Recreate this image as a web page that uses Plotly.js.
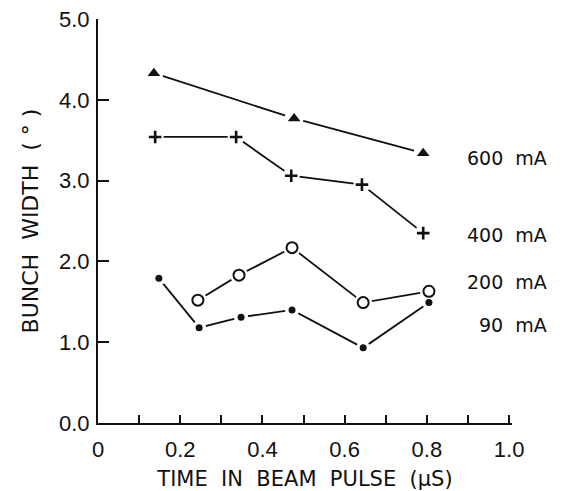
<!DOCTYPE html>
<html>
<head>
<meta charset="utf-8">
<script src="https://cdn.plot.ly/plotly-3.0.1.min.js"></script>
<style>html,body{margin:0;padding:0;background:#fff;}#chart{width:569px;height:491px;}</style>
</head>
<body>
<div id="chart"></div>
<script>
// Data
const t600 = [0.136, 0.477, 0.791];
const w600 = [4.33, 3.77, 3.34];
const t400 = [0.139, 0.336, 0.470, 0.642, 0.791];
const w400 = [3.54, 3.54, 3.06, 2.95, 2.35];
const t200 = [0.243, 0.343, 0.472, 0.645, 0.805];
const w200 = [1.52, 1.83, 2.17, 1.49, 1.63];
const t90 = [0.148, 0.246, 0.348, 0.472, 0.645, 0.805];
const w90 = [1.79, 1.18, 1.31, 1.40, 0.93, 1.49];

const seriesNames = ['600\u00a0\u00a0mA', '400\u00a0\u00a0mA', '200\u00a0\u00a0mA', '90\u00a0\u00a0mA'];
const labelX = [0.893, 0.893, 0.893, 0.921];
const labelY = [3.28, 2.33, 1.745, 1.21];

const xTickVals = [0, 0.1, 0.2, 0.3, 0.4, 0.5, 0.6, 0.7, 0.8, 0.9, 1.0];
const xTickText = ['0', '', '0.2', '', '0.4', '', '0.6', '', '0.8', '', '1.0'];
const yTickVals = [0, 1, 2, 3, 4, 5];
const yTickText = ['0.0', '1.0', '2.0', '3.0', '4.0', '5.0'];

const series = [
  {x: t600, y: w600, sym: 'triangle-up', size: 11, lw: 0, col: '#111', halo: 19},
  {x: t400, y: w400, sym: 'cross-thin-open', size: 9, lw: 2.6, col: '#111', halo: 17},
  {x: t200, y: w200, sym: 'circle-open', size: 11, lw: 2, col: '#111', halo: 18},
  {x: t90, y: w90, sym: 'circle', size: 7, lw: 0, col: '#111', halo: 14}
];

const traces = [];
series.forEach(s => traces.push({x: s.x, y: s.y, mode: 'lines', line: {color: '#111', width: 1.8}, hoverinfo: 'skip', showlegend: false}));
series.forEach(s => traces.push({x: s.x, y: s.y, mode: 'markers', marker: {symbol: 'circle', size: s.halo, color: '#fff', opacity: 1, line: {width: 0}}, hoverinfo: 'skip', showlegend: false}));
series.forEach(s => traces.push({x: s.x, y: s.y, mode: 'markers', marker: {symbol: s.sym, size: s.size, color: s.col, line: {color: '#111', width: s.lw}}, showlegend: false}));

const annotations = seriesNames.map((n, i) => ({
  x: labelX[i], y: labelY[i], xref: 'x', yref: 'y', text: n, showarrow: false,
  xanchor: 'left', yanchor: 'middle', font: {family: 'DejaVu Sans', size: 19, color: '#111'}
}));

const layout = {
  width: 569, height: 491,
  margin: {l: 98, r: 57, t: 19, b: 68},
  paper_bgcolor: '#fff', plot_bgcolor: '#fff',
  showlegend: false,
  font: {family: 'Liberation Sans, Arial, sans-serif', color: '#111'},
  xaxis: {
    range: [0, 1.007], showgrid: false, zeroline: false,
    showline: true, linecolor: '#111', linewidth: 2,
    tickmode: 'array', tickvals: xTickVals, ticktext: xTickText,
    ticks: 'inside', ticklen: 8, tickwidth: 2, tickcolor: '#111',
    tickfont: {family: 'Liberation Sans', size: 22, color: '#111'},
    ticklabelstandoff: 6,
    title: {text: 'TIME\u00a0\u00a0IN\u00a0\u00a0BEAM\u00a0\u00a0PULSE\u00a0\u00a0(\u00b5S)', font: {family: 'DejaVu Sans', size: 21, color: '#111'}, standoff: 12}
  },
  yaxis: {
    range: [0, 5], showgrid: false, zeroline: false,
    showline: true, linecolor: '#111', linewidth: 2,
    tickmode: 'array', tickvals: yTickVals, ticktext: yTickText,
    ticks: 'inside', ticklen: 11, tickwidth: 2, tickcolor: '#111',
    tickfont: {family: 'Liberation Sans', size: 22, color: '#111'},
    ticklabelstandoff: 2,
    title: {text: 'BUNCH\u00a0\u00a0WIDTH\u00a0\u00a0(\u00a0\u00b0\u00a0)', font: {family: 'DejaVu Sans', size: 22, color: '#111'}, standoff: 14}
  },
  annotations: annotations
};

Plotly.newPlot('chart', traces, layout, {staticPlot: true, displayModeBar: false});
</script>
</body>
</html>
